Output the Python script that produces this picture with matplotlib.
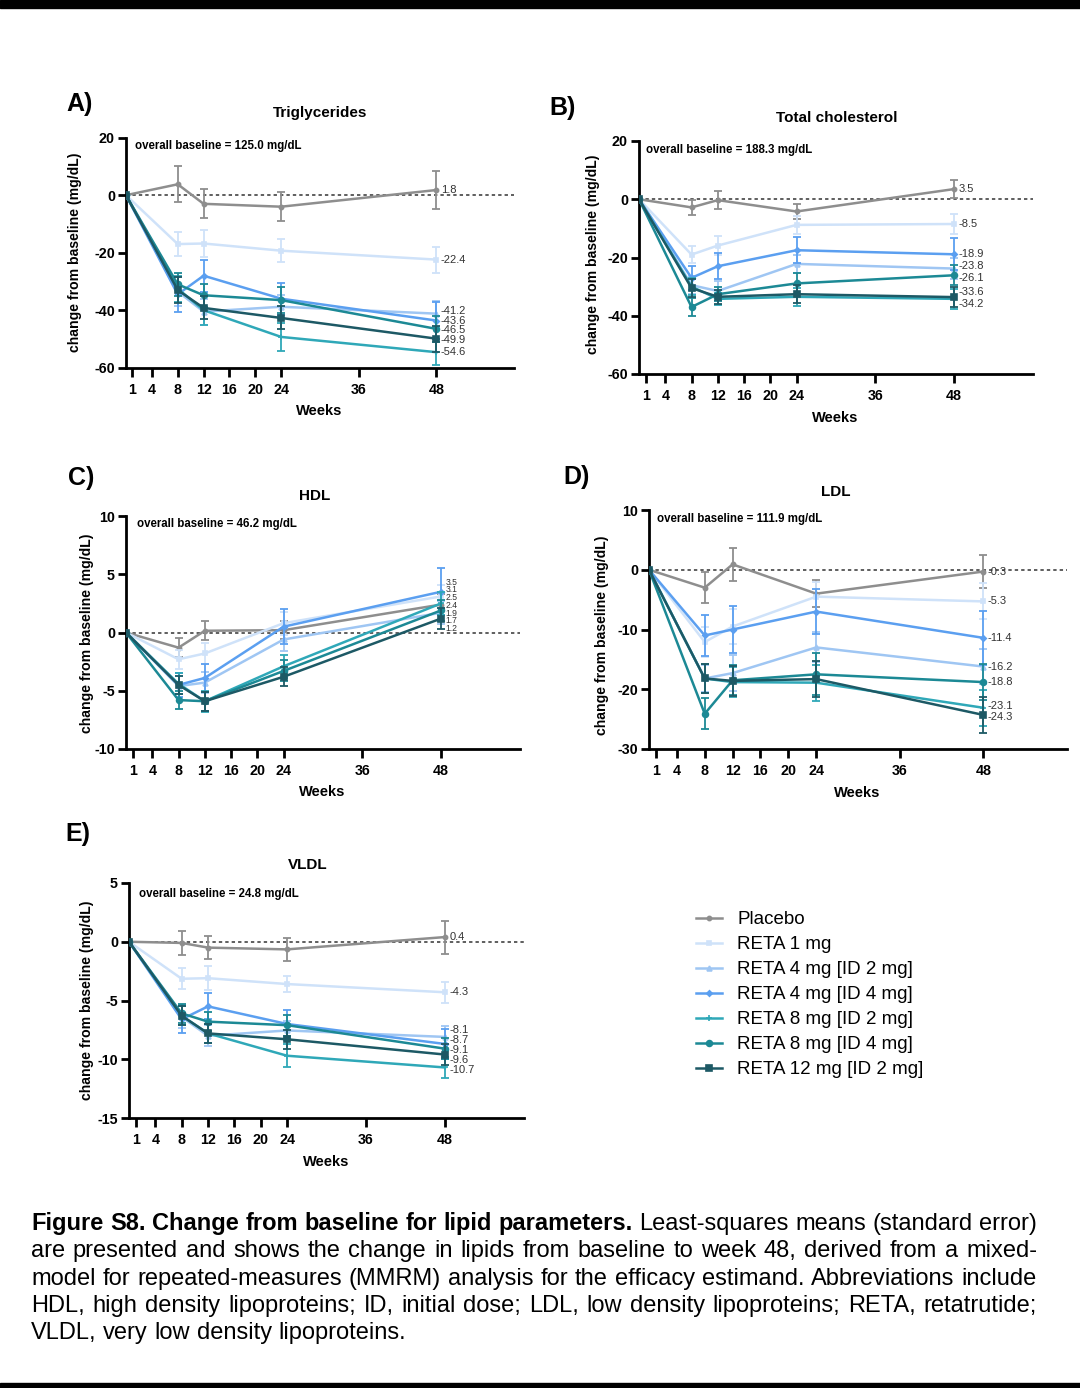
import matplotlib
matplotlib.use('Agg')
import matplotlib.pyplot as plt
from matplotlib.lines import Line2D
from matplotlib.patches import Rectangle
import numpy as np

plt.rcParams['font.family'] = ['Liberation Sans', 'DejaVu Sans']

W, H, DPI = 1080, 1388, 100

# ---------------- data ----------------
weeks = [0, 8, 12, 24, 48]
xticks = [1, 4, 8, 12, 16, 20, 24, 36, 48]

series_names = ['Placebo', 'RETA 1 mg', 'RETA 4 mg [ID 2 mg]', 'RETA 4 mg [ID 4 mg]',
                'RETA 8 mg [ID 2 mg]', 'RETA 8 mg [ID 4 mg]', 'RETA 12 mg [ID 2 mg]']
series_colors = ['#8e8e8e', '#cfe2f9', '#9fc6f3', '#5b9ff0', '#2fa8b8', '#1c8995', '#1d5965']
series_markers = ['o', 's', '^', 'D', '+', 'o', 's']
series_msize = [3.0, 3.0, 3.5, 2.8, 4.0, 4.2, 3.8]

# Triglycerides
tg_means = [[0, 3.8, -3.0, -4.0, 1.8],
            [0, -17.0, -16.8, -19.3, -22.4],
            [0, -33.5, -40.5, -38.8, -41.2],
            [0, -34.5, -28.0, -36.0, -43.6],
            [0, -32.5, -40.0, -49.3, -54.6],
            [0, -31.0, -34.8, -36.5, -46.5],
            [0, -33.0, -39.2, -42.7, -49.9]]
tg_se = [[6.3, 5.0, 5.0, 6.7],
         [4.3, 4.8, 4.0, 4.5],
         [5.0, 4.5, 4.0, 4.5],
         [6.0, 5.5, 5.5, 6.5],
         [4.5, 5.0, 5.0, 4.5],
         [4.0, 4.0, 4.5, 4.5],
         [4.5, 4.0, 4.0, 4.5]]

# Total cholesterol
tc_means = [[0, -2.8, -0.3, -4.2, 3.5],
            [0, -19.0, -15.9, -8.8, -8.5],
            [0, -29.5, -31.5, -22.2, -23.8],
            [0, -27.0, -23.0, -17.5, -18.9],
            [0, -30.0, -34.2, -33.5, -34.2],
            [0, -37.0, -32.6, -28.9, -26.1],
            [0, -30.5, -33.5, -32.6, -33.6]]
tc_se = [[2.7, 3.0, 2.5, 3.2],
         [3.0, 3.2, 3.0, 3.5],
         [3.0, 3.5, 3.0, 3.5],
         [4.0, 4.5, 4.5, 5.5],
         [3.0, 2.0, 3.0, 3.5],
         [3.0, 2.5, 3.5, 3.5],
         [3.0, 2.5, 3.0, 3.5]]

# HDL
hdl_means = [[0, -1.3, 0.15, 0.2, 2.4],
             [0, -2.3, -1.8, 0.8, 3.1],
             [0, -4.6, -4.3, -0.6, 1.7],
             [0, -4.5, -3.9, 0.5, 3.5],
             [0, -4.4, -5.9, -2.9, 2.5],
             [0, -5.8, -5.9, -3.3, 1.9],
             [0, -4.5, -5.9, -3.8, 1.2]]
hdl_se = [[0.8, 0.8, 0.8, 0.9],
          [0.8, 0.9, 1.0, 1.0],
          [0.9, 0.9, 1.0, 1.0],
          [1.0, 1.2, 1.5, 2.0],
          [0.9, 0.9, 1.0, 1.0],
          [0.8, 0.8, 0.9, 0.9],
          [0.8, 0.8, 0.8, 0.9]]

# LDL
ldl_means = [[0, -3.0, 0.9, -4.0, -0.3],
             [0, -12.1, -9.5, -4.5, -5.3],
             [0, -18.2, -17.3, -13.0, -16.2],
             [0, -11.0, -10.0, -7.0, -11.4],
             [0, -18.2, -18.8, -18.9, -23.1],
             [0, -24.1, -18.5, -17.5, -18.8],
             [0, -18.2, -18.6, -18.3, -24.3]]
ldl_se = [[2.6, 2.7, 2.3, 2.7],
          [2.5, 3.0, 2.5, 3.0],
          [2.2, 3.0, 2.5, 3.0],
          [3.5, 4.0, 3.8, 4.5],
          [2.5, 2.5, 3.0, 3.0],
          [2.6, 2.5, 3.5, 3.0],
          [2.5, 2.5, 3.0, 3.0]]

# VLDL
vldl_means = [[0, -0.1, -0.5, -0.65, 0.4],
              [0, -3.15, -3.1, -3.6, -4.3],
              [0, -6.4, -8.0, -7.55, -8.1],
              [0, -6.6, -5.5, -7.0, -8.7],
              [0, -6.3, -7.8, -9.7, -10.7],
              [0, -6.1, -6.8, -7.1, -9.1],
              [0, -6.3, -7.8, -8.3, -9.6]]
vldl_se = [[1.0, 1.0, 1.0, 1.4],
           [0.9, 1.0, 0.7, 0.9],
           [0.9, 0.9, 0.8, 0.9],
           [1.2, 1.1, 1.2, 1.3],
           [0.8, 0.8, 1.0, 0.9],
           [0.8, 0.8, 0.9, 0.9],
           [0.8, 0.8, 0.8, 0.9]]

panels = [
    dict(letter='A)', title='Triglycerides', base='overall baseline = 125.0 mg/dL',
         means=tg_means, se=tg_se, ylim=(-60, 20), yticks=[-60, -40, -20, 0, 20],
         rect=(126, 137.7, 514, 367.7), title_xy=(320, 113), xlabel_xy=(319, 411),
         ylabel_xy=(75, 252), base_xy=(135, 146), letter_xy=(80, 104),
         lab_fs=8.0, lab_gap=9.5),
    dict(letter='B)', title='Total cholesterol', base='overall baseline = 188.3 mg/dL',
         means=tc_means, se=tc_se, ylim=(-60, 20), yticks=[-60, -40, -20, 0, 20],
         rect=(639, 141, 1033, 374), title_xy=(837, 118), xlabel_xy=(835, 418),
         ylabel_xy=(593, 254), base_xy=(646, 150), letter_xy=(563, 108),
         lab_fs=8.0, lab_gap=11.5),
    dict(letter='C)', title='HDL', base='overall baseline = 46.2 mg/dL',
         means=hdl_means, se=hdl_se, ylim=(-10, 10), yticks=[-10, -5, 0, 5, 10],
         rect=(126, 516, 520, 749), title_xy=(315, 496), xlabel_xy=(322, 792),
         ylabel_xy=(87, 633), base_xy=(137, 524), letter_xy=(81, 478),
         lab_fs=6.2, lab_gap=7.7),
    dict(letter='D)', title='LDL', base='overall baseline = 111.9 mg/dL',
         means=ldl_means, se=ldl_se, ylim=(-30, 10), yticks=[-30, -20, -10, 0, 10],
         rect=(649, 510, 1067, 749), title_xy=(836, 492), xlabel_xy=(857, 793),
         ylabel_xy=(602, 635), base_xy=(657, 519), letter_xy=(577, 477),
         lab_fs=8.0, lab_gap=11.0),
    dict(letter='E)', title='VLDL', base='overall baseline = 24.8 mg/dL',
         means=vldl_means, se=vldl_se, ylim=(-15, 5), yticks=[-15, -10, -5, 0, 5],
         rect=(129, 883, 524, 1118), title_xy=(308, 865), xlabel_xy=(326, 1162),
         ylabel_xy=(87, 1000), base_xy=(139, 894), letter_xy=(78, 834),
         lab_fs=8.0, lab_gap=10.0),
]

fig = plt.figure(figsize=(W / DPI, H / DPI), dpi=DPI)
fig.patch.set_facecolor('white')

def fx(px):
    return px / W

def fy(py):
    return 1 - py / H

def repel(ys, gap):
    ys = np.asarray(ys, float)
    order = np.argsort(ys)
    p = ys[order].copy()
    for _ in range(500):
        moved = False
        for i in range(len(p) - 1):
            d = gap - (p[i + 1] - p[i])
            if d > 1e-6:
                p[i] -= d / 2
                p[i + 1] += d / 2
                moved = True
        if not moved:
            break
    out = np.empty_like(p)
    out[order] = p
    return out

LW_AX = 2.0
for P in panels:
    l, t, r, b = P['rect']
    ax = fig.add_axes([fx(l), fy(b), (r - l) / W, (b - t) / H])
    ax.set_xlim(0, 60)
    ax.set_ylim(*P['ylim'])
    for s in ['top', 'right']:
        ax.spines[s].set_visible(False)
    for s in ['left', 'bottom']:
        ax.spines[s].set_linewidth(LW_AX)
    ax.set_xticks(xticks)
    ax.set_xticklabels([str(v) for v in xticks], fontweight='bold', fontsize=10.3)
    ax.set_yticks(P['yticks'])
    ax.set_yticklabels([str(v) for v in P['yticks']], fontweight='bold', fontsize=10.3)
    ax.tick_params(axis='x', direction='out', length=6.5, width=LW_AX, pad=4.5)
    ax.tick_params(axis='y', direction='out', length=6, width=LW_AX, pad=2)
    ax.axhline(0, color='#333333', lw=1.1, ls=(0, (2.2, 2.0)), zorder=1)

    for i in range(len(series_names)):
        m = P['means'][i]
        se = P['se'][i]
        c = series_colors[i]
        ax.plot(weeks, m, color=c, lw=1.8, marker=series_markers[i],
                ms=series_msize[i], mew=1.2, zorder=3 + i * 0.1)
        ax.errorbar(weeks[1:], m[1:], yerr=se, fmt='none', ecolor=c,
                    elinewidth=1.3, capsize=3, capthick=1.3, zorder=3 + i * 0.1)

    # end labels
    y0, y1 = P['ylim']
    ends = [P['means'][i][-1] for i in range(len(series_names))]
    ypx = [b - (v - y0) / (y1 - y0) * (b - t) for v in ends]
    ypx2 = repel(ypx, P['lab_gap'])
    x48 = l + 48 / 60 * (r - l)
    for v, yp in zip(ends, ypx2):
        fig.text(fx(x48 + 4.5), fy(yp), f'{v:.1f}', fontsize=P['lab_fs'],
                 color='#333333', ha='left', va='center')

    fig.text(fx(P['title_xy'][0]), fy(P['title_xy'][1]), P['title'],
             fontsize=11, fontweight='bold', ha='center', va='center')
    fig.text(fx(P['xlabel_xy'][0]), fy(P['xlabel_xy'][1]), 'Weeks',
             fontsize=10.5, fontweight='bold', ha='center', va='center')
    fig.text(fx(P['ylabel_xy'][0]), fy(P['ylabel_xy'][1]),
             'change from baseline (mg/dL)', fontsize=10.1, fontweight='bold',
             ha='center', va='center', rotation=90)
    fig.text(fx(P['base_xy'][0]), fy(P['base_xy'][1]), P['base'],
             fontsize=8.3, fontweight='bold', ha='left', va='center')
    fig.text(fx(P['letter_xy'][0]), fy(P['letter_xy'][1]), P['letter'],
             fontsize=18, fontweight='bold', ha='center', va='center')

# legend
handles = [Line2D([0], [0], color=series_colors[i], lw=1.8, marker=series_markers[i],
                  ms=series_msize[i], mew=1.2) for i in range(len(series_names))]
fig.legend(handles, series_names, loc='upper left', bbox_to_anchor=(fx(696), fy(911)),
           frameon=False, fontsize=13.5, handlelength=1.4, handletextpad=0.8,
           labelspacing=0.42, borderpad=0, borderaxespad=0)

# caption (justified)
cap_lines = [
    [('Figure S8. Change from baseline for lipid parameters.', 'bold'),
     ('Least-squares means (standard error)', 'normal')],
    [('are presented and shows the change in lipids from baseline to week 48, derived from a mixed-', 'normal')],
    [('model for repeated-measures (MMRM) analysis for the efficacy estimand. Abbreviations include', 'normal')],
    [('HDL, high density lipoproteins; ID, initial dose; LDL, low density lipoproteins; RETA, retatrutide;', 'normal')],
    [('VLDL, very low density lipoproteins.', 'normal')],
]
CAP_L, CAP_R, CAP_FS = 31, 1037, 17
fig.canvas.draw()
renderer = fig.canvas.get_renderer()

def word_width(word, weight):
    t = fig.text(0, 0, word, fontsize=CAP_FS, fontweight=weight)
    w = t.get_window_extent(renderer).width
    t.remove()
    return w

space_w = word_width('a b', 'normal') - word_width('ab', 'normal')
for li, line in enumerate(cap_lines):
    words = []
    for seg, wt in line:
        for w in seg.split(' '):
            words.append((w, wt))
    widths = [word_width(w, wt) for w, wt in words]
    base_y = 1230 + li * 27.3
    if li < len(cap_lines) - 1:
        gap = (CAP_R - CAP_L - sum(widths)) / (len(words) - 1)
    else:
        gap = space_w
    x = CAP_L
    for (w, wt), ww in zip(words, widths):
        fig.text(fx(x), fy(base_y), w, fontsize=CAP_FS, fontweight=wt,
                 ha='left', va='baseline')
        x += ww + gap

# black bars
fig.patches.append(Rectangle((0, fy(8)), 1, 8 / H, transform=fig.transFigure,
                             color='black', zorder=10))
fig.patches.append(Rectangle((0, 0), 1, 5 / H, transform=fig.transFigure,
                             color='black', zorder=10))

fig.savefig('out.png', dpi=DPI)
